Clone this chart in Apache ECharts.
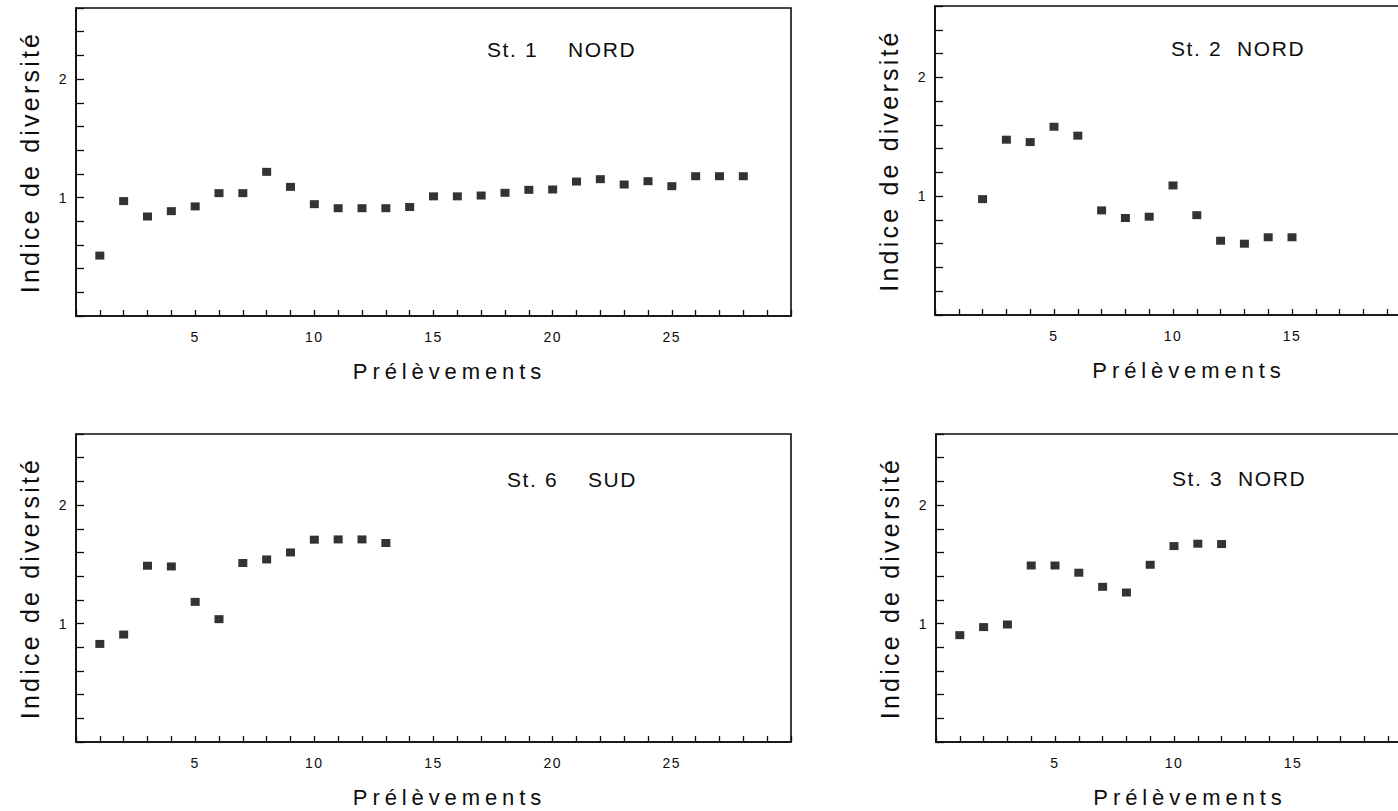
<!DOCTYPE html>
<html>
<head>
<meta charset="utf-8">
<script src="https://cdn.jsdelivr.net/npm/echarts@6/dist/echarts.min.js"></script>
<style>
  html, body { margin: 0; padding: 0; background: #ffffff; overflow: hidden; }
  /* the right-hand panels run a little past the window edge */
  #chart { width: 1440px; height: 811px; }
</style>
</head>
<body>
<div id="chart"></div>
<script>
// Diversity index per sample, four stations
const prelevSt1 = [1, 2, 3, 4, 5, 6, 7, 8, 9, 10, 11, 12, 13, 14, 15, 16, 17, 18, 19, 20, 21, 22, 23, 24, 25, 26, 27, 28];
const indiceSt1 = [0.51, 0.97, 0.84, 0.885, 0.925, 1.037, 1.037, 1.217, 1.09, 0.944, 0.91, 0.91, 0.91, 0.92,
                   1.01, 1.01, 1.017, 1.04, 1.065, 1.068, 1.135, 1.155, 1.11, 1.138, 1.096, 1.18, 1.18, 1.18];

const prelevSt2 = [2, 3, 4, 5, 6, 7, 8, 9, 10, 11, 12, 13, 14, 15];
const indiceSt2 = [0.975, 1.475, 1.455, 1.584, 1.509, 0.88, 0.816, 0.827, 1.09, 0.84, 0.625, 0.60, 0.654, 0.654];

const prelevSt6 = [1, 2, 3, 4, 5, 6, 7, 8, 9, 10, 11, 12, 13];
const indiceSt6 = [0.828, 0.907, 1.488, 1.482, 1.183, 1.037, 1.511, 1.541, 1.6, 1.708, 1.71, 1.71, 1.68];

const prelevSt3 = [1, 2, 3, 4, 5, 6, 7, 8, 9, 10, 11, 12];
const indiceSt3 = [0.902, 0.97, 0.992, 1.49, 1.49, 1.429, 1.31, 1.262, 1.496, 1.654, 1.674, 1.671];

const yLabelValues = [1, 2];
const xLabelStep = 5;

const FONT = '"Liberation Sans", Arial, sans-serif';
const INK = '#0d0d0d';

const panels = [
  { xs: prelevSt1, ys: indiceSt1, xMax: 30, left: 76,  top: 8,   width: 715, height: 308,
    title: 'St. 1\u00a0\u00a0\u00a0\u00a0NORD', tx: 487, ty: 49 },
  { xs: prelevSt2, ys: indiceSt2, xMax: 20, left: 935, top: 6,   width: 476, height: 309,
    title: 'St. 2\u00a0\u00a0NORD', tx: 1171, ty: 48 },
  { xs: prelevSt6, ys: indiceSt6, xMax: 30, left: 76,  top: 434, width: 715, height: 308,
    title: 'St. 6\u00a0\u00a0\u00a0\u00a0SUD', tx: 507, ty: 479 },
  { xs: prelevSt3, ys: indiceSt3, xMax: 20, left: 936, top: 434, width: 476, height: 308,
    title: 'St. 3\u00a0\u00a0NORD', tx: 1172, ty: 478 }
];

const grid = [], xAxis = [], yAxis = [], series = [], graphic = [];

panels.forEach((p, i) => {
  grid.push({
    left: p.left, top: p.top, width: p.width, height: p.height,
    show: true, borderColor: INK, borderWidth: 1.6, backgroundColor: 'transparent'
  });
  xAxis.push({
    gridIndex: i, type: 'value', min: 0, max: p.xMax, interval: 1,
    name: 'Prélèvements', nameLocation: 'middle', nameGap: 44,
    nameTextStyle: { fontFamily: FONT, fontSize: 22, color: INK, padding: [0, 0, 0, 32] },
    axisLine: { show: true, onZero: false, lineStyle: { color: INK, width: 1.6 } },
    axisTick: { show: true, inside: true, length: 6, lineStyle: { color: INK, width: 1.3 } },
    axisLabel: {
      margin: 14, fontFamily: FONT, fontSize: 14, color: INK,
      formatter: v => (v % xLabelStep === 0 && v > 0 && v < p.xMax) ? String(v) : ''
    },
    splitLine: { show: false }
  });
  yAxis.push({
    gridIndex: i, type: 'value', min: 0, max: 2.6, interval: 0.2,
    name: 'Indice de diversité', nameLocation: 'middle', nameGap: 34,
    nameTextStyle: { fontFamily: FONT, fontSize: 25, color: INK },
    axisLine: { show: true, onZero: false, lineStyle: { color: INK, width: 1.6 } },
    axisTick: { show: true, inside: true, length: 8, lineStyle: { color: INK, width: 1.3 } },
    axisLabel: {
      margin: 8, fontFamily: FONT, fontSize: 14, color: INK,
      formatter: v => {
        const hit = yLabelValues.find(t => Math.abs(v - t) < 1e-6);
        return hit !== undefined ? String(hit) : '';
      }
    },
    splitLine: { show: false }
  });
  series.push({
    type: 'scatter', xAxisIndex: i, yAxisIndex: i,
    symbol: 'rect', symbolSize: [9, 8],
    itemStyle: { color: '#000000' },
    data: p.xs.map((x, k) => [x, p.ys[k]])
  });
  graphic.push({
    type: 'text', x: p.tx, y: p.ty, silent: true,
    style: { text: p.title, fill: INK, fontFamily: FONT, fontSize: 21, verticalAlign: 'middle', align: 'left' }
  });
});

const chart = echarts.init(document.getElementById('chart'), null, { renderer: 'svg' });
chart.setOption({
  animation: false,
  backgroundColor: '#ffffff',
  grid, xAxis, yAxis, series, graphic
});

// Wide letter spacing of the lettering
function spaceLettering() {
  document.querySelectorAll('#chart text').forEach(t => {
    const s = t.textContent;
    let ls = null;
    if (s === 'Prélèvements') ls = '4.9px';
    else if (s === 'Indice de diversité') ls = '3.2px';
    else if (s.indexOf('St.') === 0) ls = '1.6px';
    else if (/^\d+$/.test(s)) ls = '1.5px';
    if (ls) t.setAttribute('letter-spacing', ls);
  });
}
spaceLettering();
chart.on('finished', spaceLettering);
</script>
</body>
</html>
